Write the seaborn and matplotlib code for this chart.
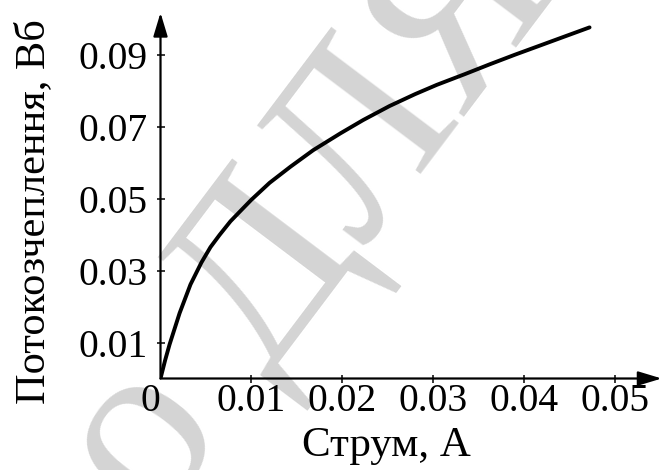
import matplotlib
matplotlib.use("Agg")
import matplotlib.pyplot as plt
import seaborn as sns

# Data
current = [0, 0.0005, 0.0010, 0.0021, 0.0033, 0.0045, 0.0055, 0.0065,
           0.0077, 0.0090, 0.0100, 0.0120, 0.0143, 0.0168, 0.0198, 0.0223,
           0.0252, 0.0280, 0.0304, 0.0335, 0.0362, 0.0390, 0.0417, 0.0445,
           0.0472]
flux = [0, 0.0050, 0.0095, 0.0182, 0.0262, 0.0323, 0.0366, 0.0400,
        0.0438, 0.0472, 0.0498, 0.0545, 0.0590, 0.0636, 0.0683, 0.0720,
        0.0759, 0.0792, 0.0818, 0.0848, 0.0875, 0.0902, 0.0927, 0.0953,
        0.0978]
x_ticks = [0, 0.01, 0.02, 0.03, 0.04, 0.05]
x_tick_labels = ["0", "0.01", "0.02", "0.03", "0.04", "0.05"]
y_ticks = [0.01, 0.03, 0.05, 0.07, 0.09]
y_tick_labels = ["0.01", "0.03", "0.05", "0.07", "0.09"]
x_label = "Струм, А"
y_label = "Потокозчеплення, Вб"
watermark = "о ДЛЯ"

sns.set_theme(style="white")
plt.rcParams["font.family"] = ["Liberation Serif", "DejaVu Serif"]

W, H = 663, 470
fig = plt.figure(figsize=(W / 100, H / 100), dpi=100)
x0, y0 = 160.5, 378.5
top, right = 12.0, 663.0
ax = fig.add_axes([x0 / W, (H - y0) / H, (right - x0) / W, (y0 - top) / H])
ax.patch.set_alpha(0)

px_per_x = 9090.0
px_per_y = 3590.0
ax.set_xlim(0, (right - x0) / px_per_x)
ax.set_ylim(0, (y0 - top) / px_per_y)

# watermark
ax.text(312 / W, 1 - 222 / H, watermark, transform=fig.transFigure,
        rotation=53, ha="center", va="center", fontsize=175,
        color="#d4d4d4", zorder=0.5, clip_on=False,
        family=["Liberation Serif", "DejaVu Serif"])

sns.lineplot(x=current, y=flux, color="black", linewidth=2.8, ax=ax,
             zorder=3, sort=False, solid_joinstyle="round",
             solid_capstyle="round")

for s in ax.spines.values():
    s.set_visible(False)

# axes with arrows
arrow_kw = dict(arrowstyle="-|>,head_length=0.96,head_width=0.29",
                color="black", lw=1.6, shrinkA=0, shrinkB=0,
                mutation_scale=15)
ax.annotate("", xy=(0.9974, 0), xytext=(0, 0), xycoords="axes fraction",
            textcoords="axes fraction", arrowprops=arrow_kw, zorder=4)
ax.annotate("", xy=(0, 0.998), xytext=(0, 0), xycoords="axes fraction",
            textcoords="axes fraction", arrowprops=arrow_kw, zorder=4)

ax.set_xticks(x_ticks)
ax.set_xticklabels(x_tick_labels)
ax.set_yticks(y_ticks)
ax.set_yticklabels(y_tick_labels)
ax.tick_params(axis="both", which="major", direction="inout", length=6,
               width=1.1, color="black", labelsize=28.5, labelcolor="black")
ax.tick_params(axis="x", pad=0, bottom=True)
ax.tick_params(axis="y", pad=6, left=True)
ax.get_xticklabels()[0].set_ha("right")
ax.xaxis.get_major_ticks()[0].tick1line.set_visible(False)

ax.set_xlabel(x_label, fontsize=31, color="black")
ax.set_ylabel(y_label, fontsize=30.5, color="black")
ax.xaxis.set_label_coords(0.4498, -0.132)
ax.yaxis.set_label_coords(-0.214, 0.455)

fig.savefig("out.png", dpi=100)
